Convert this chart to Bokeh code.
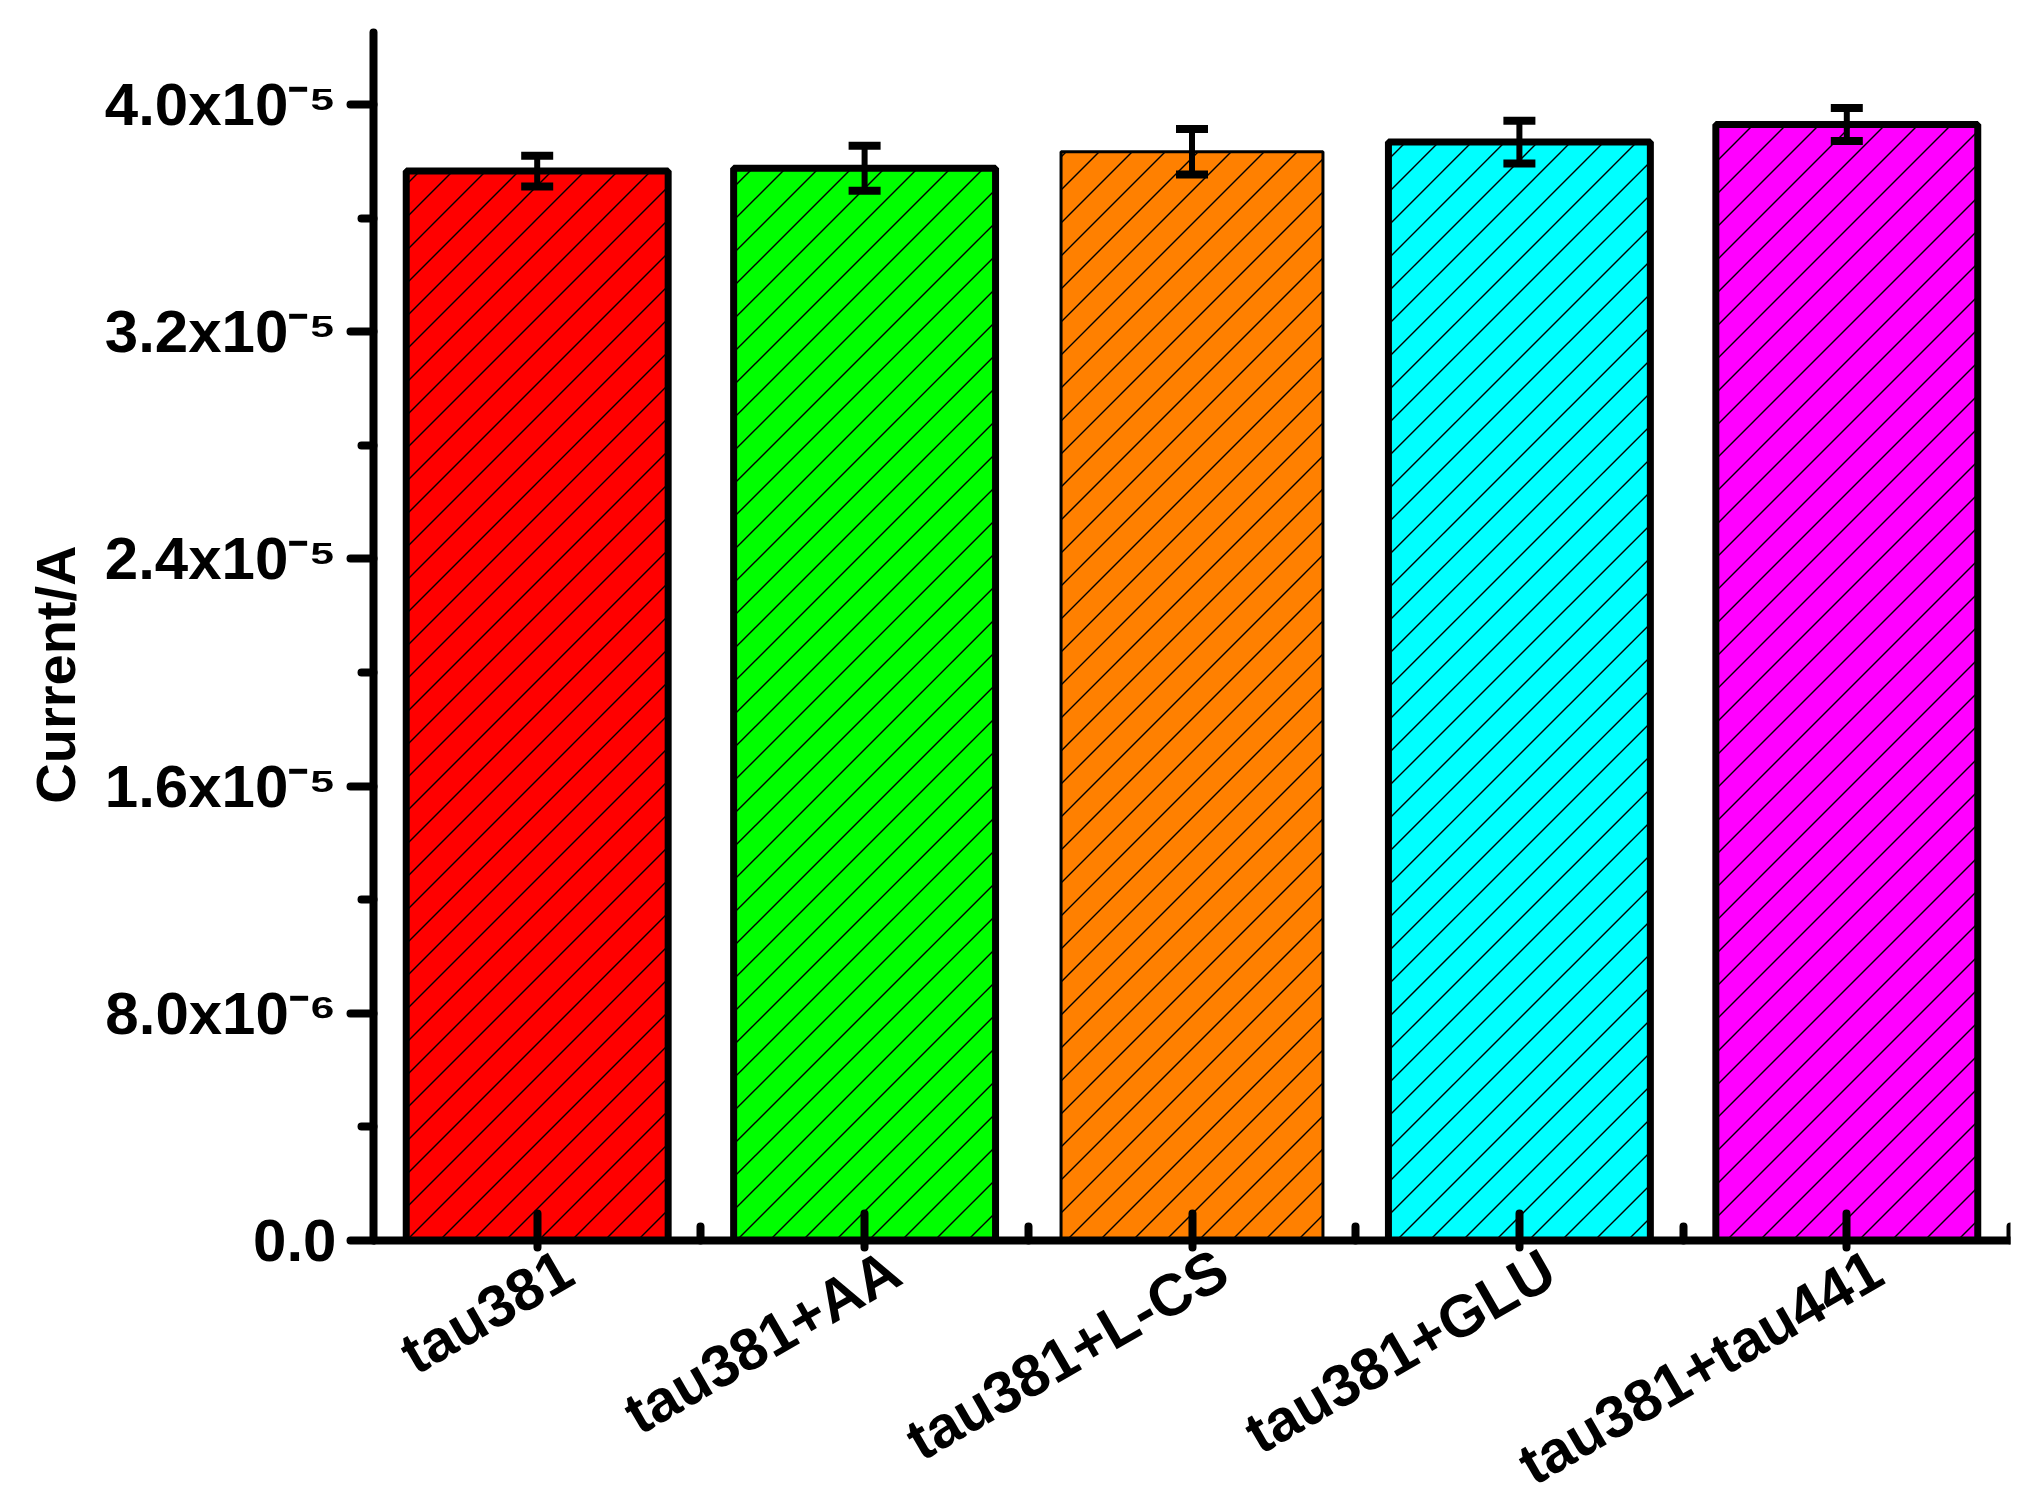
import math
from bokeh.plotting import figure
from bokeh.models import (Range1d, FixedTicker, ColumnDataSource, Whisker,
                          TeeHead, CustomJSTickFormatter, LabelSet, Title)
from bokeh.core.properties import value
from bokeh.embed import file_html
from bokeh.resources import INLINE

# ---- data ----
categories = ["tau381", "tau381+AA", "tau381+L-CS", "tau381+GLU", "tau381+tau441"]
means = [3.766e-5, 3.776e-5, 3.834e-5, 3.868e-5, 3.930e-5]
errors = [5.4e-7, 7.9e-7, 8.0e-7, 7.5e-7, 5.8e-7]
y_ticks = [0.0, 8.0e-6, 1.6e-5, 2.4e-5, 3.2e-5, 4.0e-5]
y_tick_labels = ["0.0", "8.0x10\u207b\u2076", "1.6x10\u207b\u2075",
                 "2.4x10\u207b\u2075", "3.2x10\u207b\u2075", "4.0x10\u207b\u2075"]
y_label = "Current/A"
y_top = 4.254e-5

# ---- styles / layout ----
colors = ["#FF0000", "#00FF00", "#FF8000", "#00FFFF", "#FF00FF"]
outline_widths = [7, 7, 3, 7, 7]
FONT = "Liberation Sans"
BAR_W = 0.8
HATCH_STEP = 33           # horizontal spacing of the 45-degree hatch, px
W, H = 2020, 1500
B_LEFT, B_RIGHT, B_TOP, B_BOTTOM = 373, 10, 32, 8
ZERO_PX = 1240            # canvas row of the zero line
frame_bottom = H - B_BOTTOM
y_bottom = -(frame_bottom - ZERO_PX) / (ZERO_PX - B_TOP) * y_top   # room for labels
x_start, x_end = 0.5, len(categories) + 0.5

xs = list(range(1, len(categories) + 1))
src = ColumnDataSource(dict(
    x=xs, top=means,
    upper=[m + e for m, e in zip(means, errors)],
    lower=[m - e for m, e in zip(means, errors)],
    color=colors, lw=outline_widths,
    base=[0.0] * len(xs), name=categories,
))

p = figure(width=W, height=H, output_backend="svg", toolbar_location=None,
           x_range=Range1d(x_start, x_end), y_range=Range1d(y_bottom, y_top),
           min_border_left=B_LEFT, min_border_right=B_RIGHT, min_border_top=B_TOP,
           min_border_bottom=B_BOTTOM)
p.outline_line_color = None
p.xgrid.grid_line_color = None
p.ygrid.grid_line_color = None
p.background_fill_color = "white"

# bar fills
p.vbar(x="x", top="top", bottom=0, width=BAR_W, source=src,
       fill_color="color", line_color=None)

# 45-degree "/" hatch inside each bar (screen-space spacing)
sx = (W - B_LEFT - B_RIGHT) / (x_end - x_start)
sy = (ZERO_PX - B_TOP) / y_top
hx0, hy0, hx1, hy1 = [], [], [], []
for xc, t in zip(xs, means):
    X0 = (xc - BAR_W / 2 - x_start) * sx
    X1 = (xc + BAR_W / 2 - x_start) * sx
    Hp = t * sy
    c = math.floor((X0 - Hp) / HATCH_STEP) * HATCH_STEP
    while c <= X1:
        a = max(X0, c)
        b = min(X1, c + Hp)
        if b > a:
            hx0.append(x_start + a / sx); hy0.append((a - c) / sy)
            hx1.append(x_start + b / sx); hy1.append((b - c) / sy)
        c += HATCH_STEP
p.segment(x0=hx0, y0=hy0, x1=hx1, y1=hy1, line_color="black", line_width=1.4)

# bar outlines
p.vbar(x="x", top="top", bottom=0, width=BAR_W, source=src,
       fill_color=None, line_color="black", line_width="lw")

wh = Whisker(base="x", upper="upper", lower="lower", source=src,
             line_color="black", line_width=6,
             upper_head=TeeHead(size=32, line_width=8, line_color="black"),
             lower_head=TeeHead(size=32, line_width=8, line_color="black"))
wh.level = "overlay"
p.add_layout(wh)

# axes
for ax in (p.xaxis[0], p.yaxis[0]):
    ax.axis_line_width = 8
    ax.axis_line_color = "black"
    ax.axis_line_cap = "round"
    ax.major_tick_line_width = 8
    ax.minor_tick_line_width = 8
    ax.major_tick_line_cap = "round"
    ax.minor_tick_line_cap = "round"
    ax.major_tick_line_color = "black"
    ax.minor_tick_line_color = "black"
    ax.major_label_text_font = FONT
    ax.major_label_text_font_style = "bold"
    ax.major_label_text_font_size = "60px"
    ax.major_label_text_color = "black"

minor_y = [(a + b) / 2 for a, b in zip(y_ticks[:-1], y_ticks[1:])]
p.yaxis.ticker = FixedTicker(ticks=y_ticks, minor_ticks=minor_y)
p.yaxis.formatter = CustomJSTickFormatter(args=dict(tvals=y_ticks, tlabels=y_tick_labels), code="""
    let best = 0;
    for (let i = 0; i < tvals.length; i++) {
        if (Math.abs(tick - tvals[i]) < Math.abs(tick - tvals[best])) best = i;
    }
    return tlabels[best];
""")
p.yaxis.bounds = (0, y_top)
p.yaxis.major_tick_out = 23
p.yaxis.major_tick_in = 0
p.yaxis.minor_tick_out = 12
p.yaxis.minor_tick_in = 0
p.yaxis.major_label_standoff = 14

# y-axis title, positioned along the zero..top span
ytitle = Title(text=y_label, align="right", offset=513, vertical_align="middle",
               text_font=FONT, text_font_style="bold", text_font_size="56px",
               text_color="black", standoff=28)
p.add_layout(ytitle, "left")

minor_x = [x + 0.5 for x in xs]
p.xaxis.ticker = FixedTicker(ticks=xs, minor_ticks=minor_x)
p.xaxis.formatter = CustomJSTickFormatter(code="return '';")
p.xaxis.major_label_text_font_size = "0px"
p.xaxis.major_label_standoff = 0
p.xaxis.fixed_location = 0
p.xaxis.major_tick_in = 27
p.xaxis.major_tick_out = 7
p.xaxis.minor_tick_in = 14
p.xaxis.minor_tick_out = 0

# rotated category labels under the ticks
labels = LabelSet(x="x", y="base", text="name", source=src,
                  angle=math.radians(30), text_align="right", text_baseline="top",
                  x_offset=14, y_offset=4,
                  text_font=value(FONT), text_font_style="bold", text_font_size="59px",
                  text_color="black")
p.add_layout(labels)

open("out.html", "w").write(file_html(p, INLINE))
